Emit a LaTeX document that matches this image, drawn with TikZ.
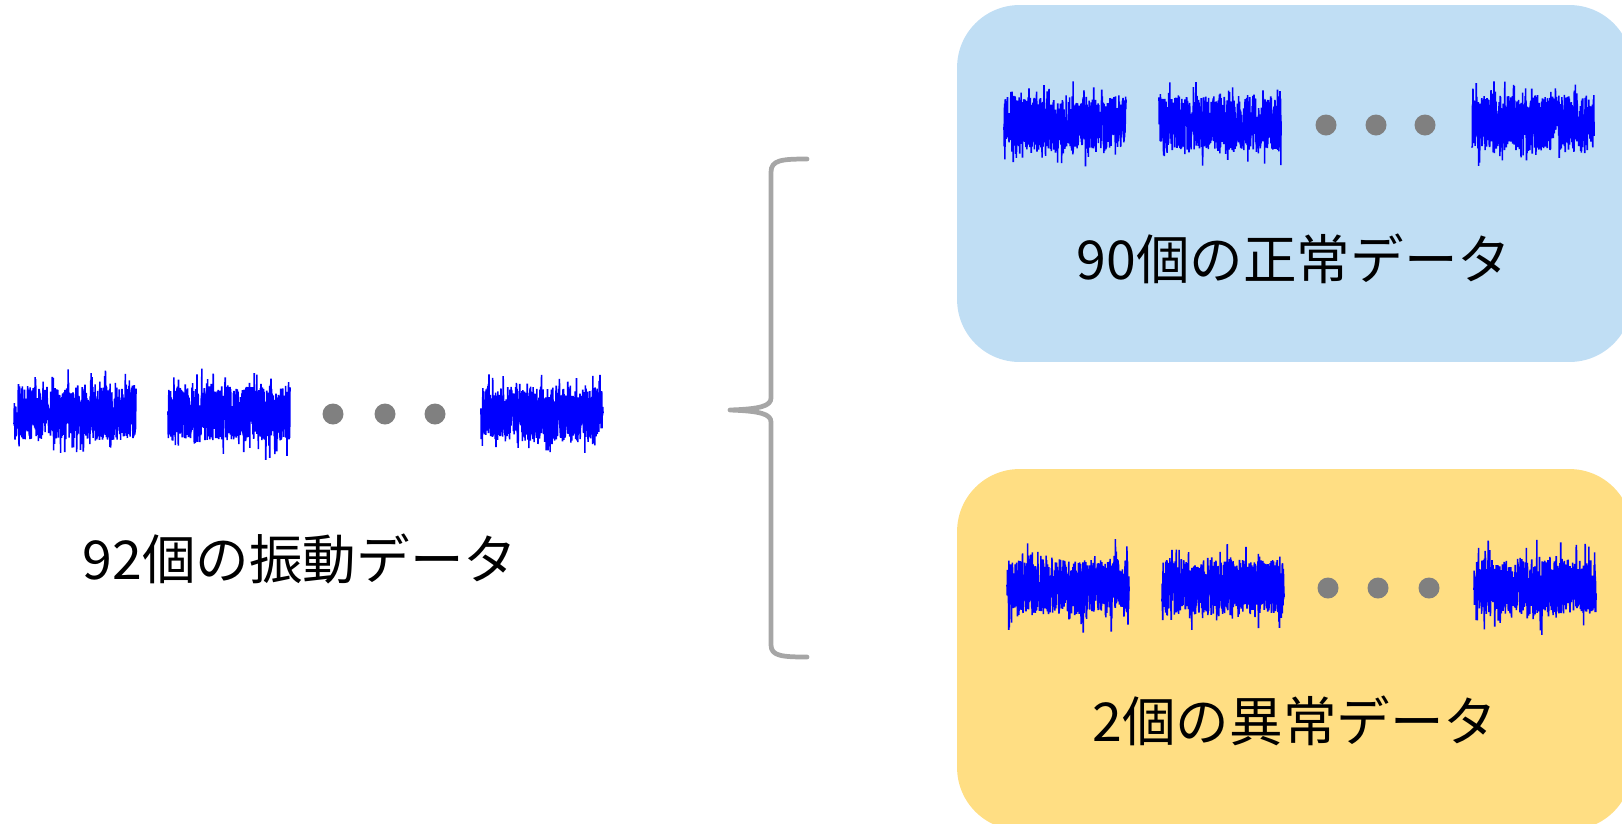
\documentclass[tikz,border=0pt]{standalone}
\usepackage{fontspec}
\setmainfont{Noto Sans CJK JP}
\usepackage{tikz}
\definecolor{okblue}{HTML}{C0DEF4}
\definecolor{ngyellow}{HTML}{FFDE83}
\definecolor{dotgray}{HTML}{808080}
\definecolor{bracegray}{HTML}{A6A6A6}
\tikzset{
  wave/.style={blue, line width=0.9pt, line join=bevel},
  dot/.style={circle, fill=dotgray, minimum size=0.42cm, inner sep=0pt},
  label/.style={font=\fontsize{30.5}{36}\selectfont, inner sep=0pt},
  panel/.style={rounded corners=1.25cm, minimum width=13.5cm, inner sep=0pt}
}
\newcommand{\vib}[2]{\draw[wave, shift={(#1,#2)}] plot[domain=0:122, samples=700] (\x, {27*rand + 22*rand^5});}

\begin{document}
\begin{tikzpicture}[x=0.02cm, y=-0.02cm]
      \pgfmathsetseed{11}
      \clip (0,0) rectangle (1622,823);

      \node[panel, fill=okblue, minimum height=7.14cm] (ok) at (1294.5,183.5) {};
      \node[panel, fill=ngyellow, minimum height=7.22cm] (ng) at (1294.5,649.5) {};

      \vib{14}{413}
      \vib{168}{413}
      \vib{481}{413}
      \node[dot] (a1) at (333,414) {};
      \node[dot] (a2) at (385,414) {};
      \node[dot] (a3) at (435,414) {};
      \node[label] (all) at (300,559) {92個の振動データ};

      \vib{1004}{123}
      \vib{1159}{123}
      \vib{1472}{123}
      \node[dot] (b1) at (1326,125) {};
      \node[dot] (b2) at (1376,125) {};
      \node[dot] (b3) at (1425,125) {};
      \node[label] (normal) at (1294,259) {90個の正常データ};

      \vib{1007}{587}
      \vib{1162}{587}
      \vib{1474}{587}
      \node[dot] (c1) at (1328,588) {};
      \node[dot] (c2) at (1378,588) {};
      \node[dot] (c3) at (1429,588) {};
      \node[label] (anomaly) at (1295,721) {2個の異常データ};

      \coordinate (k0) at (807,159);
      \coordinate (k1) at (771,172);
      \coordinate (k2) at (771,398);
      \coordinate (k3) at (730,410);
      \coordinate (k4) at (771,422);
      \coordinate (k5) at (771,645);
      \coordinate (k6) at (807,657);
      \draw[bracegray, line width=2.7pt, line cap=round, line join=round]
        (k0) .. controls (782,159) and (771,160) .. (k1) -- (k2)
        .. controls (771,406) and (760,409) .. (k3)
        .. controls (760,411) and (771,414) .. (k4) -- (k5)
        .. controls (771,656) and (782,657) .. (k6);
\end{tikzpicture}
\end{document}
